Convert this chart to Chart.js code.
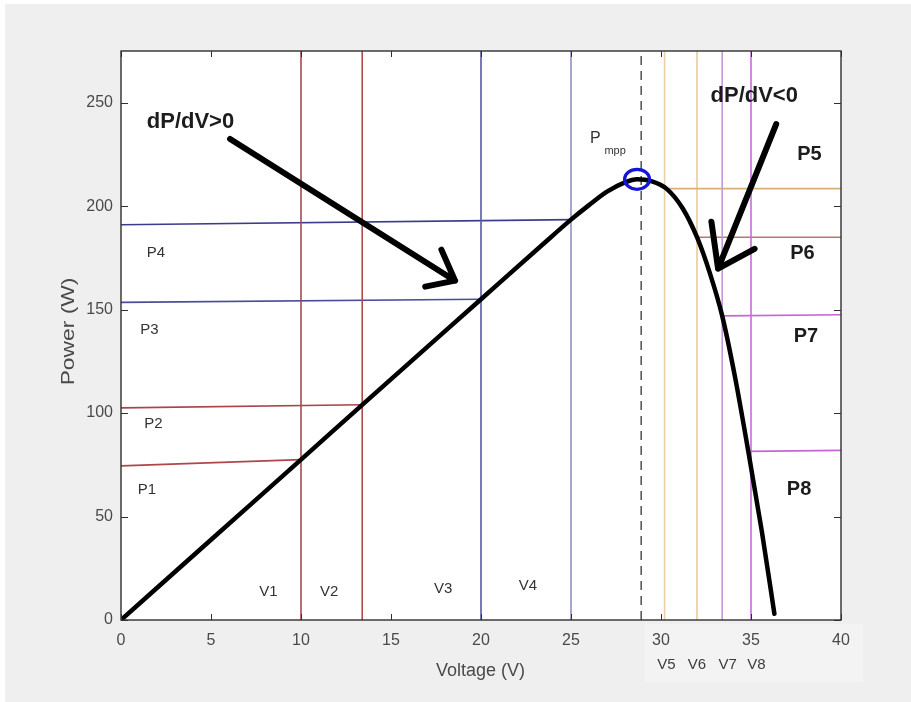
<!DOCTYPE html>
<html>
<head>
<meta charset="utf-8">
<title>P-V curve</title>
<script src="https://cdn.jsdelivr.net/npm/chart.js@4/dist/chart.umd.min.js"></script>
<style>
  html, body { margin: 0; padding: 0; background: #ffffff; }
  #wrap { width: 911px; height: 702px; position: relative; }
</style>
</head>
<body>
<div id="wrap"><canvas id="pv" width="911" height="702"></canvas></div>
<script>
// Axis limits and tick labels
const xTicks = [0, 5, 10, 15, 20, 25, 30, 35, 40];
const yTicks = [0, 50, 100, 150, 200, 250];
const xRange = [0, 40];
const yRange = [0, 275];

// P-V characteristic of the module (V, W)
const curveVolts = [0, 5, 10, 13.4, 20, 23.3, 25, 26, 27, 28, 28.67, 29.5, 30.3, 31.2, 32, 32.7, 33.4, 34.1, 34.85, 35.6, 36.3];
const curvePower = [0, 38.8, 77.5, 104, 155, 180.5, 193.5, 200.5, 207, 211.5, 213, 212, 208.5, 199, 185, 168, 147, 118, 81.5, 43, 3];

// Operating voltages V1..V8
const vNames = ['V1', 'V2', 'V3', 'V4', 'V5', 'V6', 'V7', 'V8'];
const vVolts = [10, 13.4, 20, 25, 30.2, 32, 33.4, 35];

// Power levels P1..P8 (segment start/end in V and W)
const pNames = ['P1', 'P2', 'P3', 'P4', 'P5', 'P6', 'P7', 'P8'];
const pFromV = [0, 0, 0, 0, 30.2, 32, 33.4, 34.85];
const pToV = [10, 13.4, 20, 25, 40, 40, 40, 40];
const pFromW = [74.5, 102.5, 153.5, 191, 208.5, 185, 147, 81.5];
const pToW = [77.5, 104, 155, 193.5, 208.5, 185, 147.5, 82];

// Maximum power point
const mppVolt = 28.9;
const mppMarkV = 28.67;
const mppMarkW = 213;

// Line styles
const vColors = ['#a8494f', '#b04a4f', '#5858a8', '#9090c4', 'rgba(226,176,110,0.6)', 'rgba(226,176,110,0.7)', '#c49ad4', '#c46ed4'];
const pColors = ['#b0454a', '#a8444a', '#4c4c9c', '#3c3c8c', '#d8b07a', '#bc7474', '#c466d4', '#c466d4'];

const FONT = '"Liberation Sans", Arial, sans-serif';

const datasets = [];
datasets.push({
  data: curveVolts.map((v, i) => ({ x: v, y: curvePower[i] })),
  borderColor: '#000000', borderWidth: 4.5, borderCapStyle: 'round', borderJoinStyle: 'round',
  pointRadius: 0, cubicInterpolationMode: 'monotone', order: 0
});
vVolts.forEach((v, i) => datasets.push({
  data: [{ x: v, y: yRange[0] }, { x: v, y: yRange[1] }],
  borderColor: vColors[i], borderWidth: 1.6, pointRadius: 0, tension: 0, order: 2
}));
pNames.forEach((n, i) => datasets.push({
  data: [{ x: pFromV[i], y: pFromW[i] }, { x: pToV[i], y: pToW[i] }],
  borderColor: pColors[i], borderWidth: 1.6, pointRadius: 0, tension: 0, order: 2
}));
datasets.push({
  data: [{ x: mppVolt, y: yRange[0] }, { x: mppVolt, y: yRange[1] }],
  borderColor: '#5a5a5a', borderWidth: 1.6, borderDash: [9, 6], pointRadius: 0, tension: 0, order: 1
});

// Annotation placement (data units)
const notes = [
  { text: 'dP/dV>0', v: 3.86, w: 240.5, font: 'bold 22px ' + FONT, color: '#1c1c1c' },
  { text: 'dP/dV<0', v: 35.18, w: 253.3, font: 'bold 22px ' + FONT, color: '#1c1c1c' },
  { text: 'P1', v: 1.44, w: 62.7, font: '15px ' + FONT, color: '#333' },
  { text: 'P2', v: 1.8, w: 95, font: '15px ' + FONT, color: '#333' },
  { text: 'P3', v: 1.58, w: 140.4, font: '15px ' + FONT, color: '#333' },
  { text: 'P4', v: 1.94, w: 177.5, font: '15px ' + FONT, color: '#333' },
  { text: 'P5', v: 38.25, w: 225.1, font: 'bold 20px ' + FONT, color: '#1c1c1c' },
  { text: 'P6', v: 37.86, w: 177.3, font: 'bold 20px ' + FONT, color: '#1c1c1c' },
  { text: 'P7', v: 38.05, w: 137.2, font: 'bold 20px ' + FONT, color: '#1c1c1c' },
  { text: 'P8', v: 37.67, w: 63.2, font: 'bold 20px ' + FONT, color: '#1c1c1c' },
  { text: 'V1', v: 8.19, w: 13.5, font: '15px ' + FONT, color: '#333' },
  { text: 'V2', v: 11.56, w: 13.5, font: '15px ' + FONT, color: '#333' },
  { text: 'V3', v: 17.9, w: 15, font: '15px ' + FONT, color: '#333' },
  { text: 'V4', v: 22.6, w: 16.4, font: '15px ' + FONT, color: '#333' }
];
const belowAxis = [
  { text: 'V5', v: 30.3 }, { text: 'V6', v: 32.0 }, { text: 'V7', v: 33.7 }, { text: 'V8', v: 35.3 }
];
const arrows = [
  { from: [6.06, 232.5], to: [18.56, 164], barbs: [[17.8, 179], [16.9, 161.1]] },
  { from: [36.4, 239.7], to: [33.17, 169.8], barbs: [[32.8, 192.5], [35.2, 179.4]] }
];

const decor = {
  id: 'decor',
  beforeDraw(chart) {
    const { ctx, chartArea: a, width, height } = chart;
    ctx.save();
    ctx.fillStyle = '#ffffff';
    ctx.fillRect(0, 0, width, height);
    ctx.fillStyle = '#efefef';
    ctx.fillRect(5, 4, width - 5, height - 4);
    ctx.fillStyle = '#ffffff';
    ctx.fillRect(a.left, a.top, a.right - a.left, a.bottom - a.top);
    // faint panel behind the V5..V8 labels
    ctx.fillStyle = 'rgba(255,255,255,0.28)';
    ctx.fillRect(645, a.bottom + 4, 218, 58);
    ctx.restore();
  },
  afterDatasetsDraw(chart) {
    const { ctx, scales: { x, y } } = chart;
    const px = v => x.getPixelForValue(v);
    const py = w => y.getPixelForValue(w);
    ctx.save();
    // MPP marker
    ctx.strokeStyle = '#1515d8';
    ctx.lineWidth = 3.2;
    ctx.beginPath();
    ctx.ellipse(px(mppMarkV), py(mppMarkW), 12.5, 10, 0, 0, Math.PI * 2);
    ctx.stroke();
    // slope arrows
    ctx.strokeStyle = '#000';
    ctx.lineWidth = 6;
    ctx.lineCap = 'round';
    ctx.lineJoin = 'round';
    arrows.forEach(ar => {
      ctx.beginPath();
      ctx.moveTo(px(ar.from[0]), py(ar.from[1]));
      ctx.lineTo(px(ar.to[0]), py(ar.to[1]));
      ar.barbs.forEach(b => {
        ctx.moveTo(px(b[0]), py(b[1]));
        ctx.lineTo(px(ar.to[0]), py(ar.to[1]));
      });
      ctx.stroke();
    });
    // text notes
    ctx.textAlign = 'center';
    ctx.textBaseline = 'middle';
    notes.forEach(n => {
      ctx.font = n.font;
      ctx.fillStyle = n.color;
      ctx.fillText(n.text, px(n.v), py(n.w));
    });
    // P_mpp label
    ctx.fillStyle = '#333';
    ctx.font = '16px ' + FONT;
    ctx.fillText('P', px(26.35), py(232.5));
    ctx.font = '11px ' + FONT;
    ctx.fillText('mpp', px(27.45), py(226.7));
    ctx.restore();
  },
  afterDraw(chart) {
    const { ctx, scales: { x, y }, chartArea: a } = chart;
    ctx.save();
    // box and inward ticks
    ctx.strokeStyle = '#303030';
    ctx.lineWidth = 1.4;
    ctx.strokeRect(a.left, a.top, a.right - a.left, a.bottom - a.top);
    ctx.lineWidth = 1;
    ctx.beginPath();
    xTicks.forEach(t => {
      const p = Math.round(x.getPixelForValue(t)) + 0.5;
      ctx.moveTo(p, a.bottom); ctx.lineTo(p, a.bottom - 6);
      ctx.moveTo(p, a.top); ctx.lineTo(p, a.top + 6);
    });
    yTicks.forEach(t => {
      const p = Math.round(y.getPixelForValue(t)) + 0.5;
      ctx.moveTo(a.left, p); ctx.lineTo(a.left + 7, p);
      ctx.moveTo(a.right, p); ctx.lineTo(a.right - 7, p);
    });
    ctx.stroke();
    // V5..V8 labels under the axis
    ctx.fillStyle = '#3c3c3c';
    ctx.font = '15px ' + FONT;
    ctx.textAlign = 'center';
    ctx.textBaseline = 'middle';
    belowAxis.forEach(l => ctx.fillText(l.text, x.getPixelForValue(l.v), a.bottom + 45));
    // axis titles
    ctx.fillStyle = '#4a4a4a';
    ctx.font = '18px ' + FONT;
    ctx.fillText('Voltage (V)', (a.left + a.right) / 2 - 0.5, a.bottom + 51);
    ctx.translate(68.5, (a.top + a.bottom) / 2 - 4);
    ctx.rotate(-Math.PI / 2);
    ctx.scale(1.2, 1);
    ctx.font = '19px ' + FONT;
    ctx.fillText('Power (W)', 0, 0);
    ctx.restore();
  }
};

new Chart(document.getElementById('pv'), {
  type: 'line',
  data: { datasets },
  plugins: [decor],
  options: {
    responsive: false,
    animation: false,
    devicePixelRatio: 1,
    layout: { padding: { top: 51, right: 70, left: 0, bottom: 0 } },
    plugins: { legend: { display: false }, tooltip: { enabled: false } },
    elements: { line: { fill: false } },
    scales: {
      x: {
        type: 'linear', min: xRange[0], max: xRange[1],
        afterBuildTicks: s => { s.ticks = xTicks.map(v => ({ value: v })); },
        afterFit: s => { s.height = 82; },
        grid: { display: false, drawTicks: false },
        border: { display: false },
        ticks: { color: '#4a4a4a', font: { family: FONT, size: 16 }, padding: 11, maxRotation: 0 }
      },
      y: {
        type: 'linear', min: yRange[0], max: yRange[1],
        afterBuildTicks: s => { s.ticks = yTicks.map(v => ({ value: v })); },
        afterFit: s => { s.width = 121; },
        grid: { display: false, drawTicks: false },
        border: { display: false },
        ticks: { color: '#4a4a4a', font: { family: FONT, size: 16 }, padding: 8 }
      }
    }
  }
});
</script>
</body>
</html>
